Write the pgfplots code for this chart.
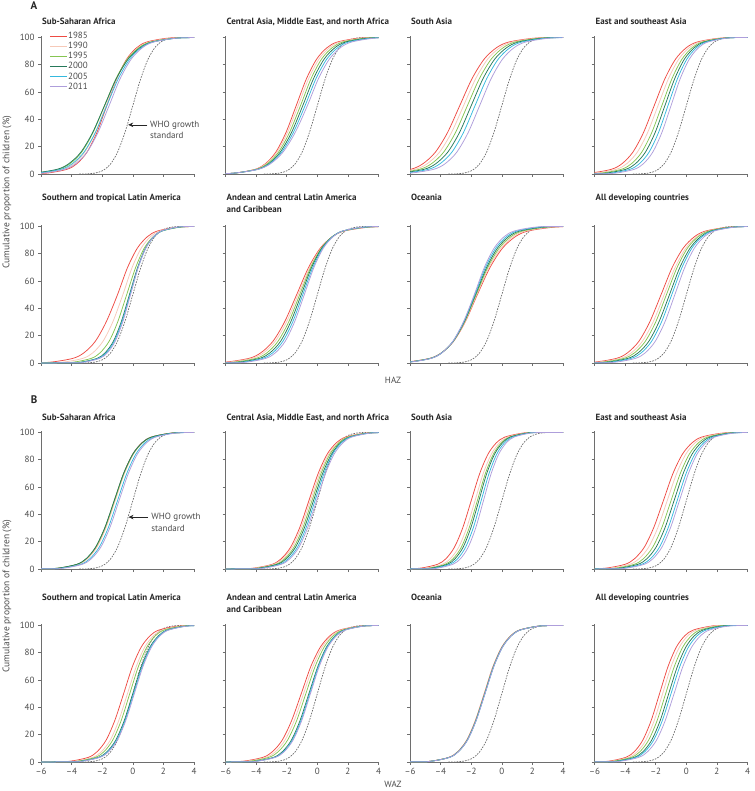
\documentclass[border=0pt]{standalone}
\usepackage{fontspec}
\setmainfont{PT Sans}
\usepackage{pgfplots}
\usepackage{pgfplotstable}
\pgfplotsset{compat=1.18}
\usetikzlibrary{arrows.meta}

\definecolor{c85}{HTML}{EE4B43}
\definecolor{c90}{HTML}{F6C9B8}
\definecolor{c95}{HTML}{86C552}
\definecolor{c00}{HTML}{26795A}
\definecolor{c05}{HTML}{35B9DE}
\definecolor{c11}{HTML}{AE9EDB}
\definecolor{axgray}{HTML}{6E6E6E}
\definecolor{whogray}{HTML}{6A6A6A}
\definecolor{txtgray}{HTML}{4A4A4A}

\tikzset{
 s85/.style={c85, line width=0.75pt, smooth},
 s90/.style={c90, line width=0.75pt, smooth},
 s95/.style={c95, line width=0.75pt, smooth},
 s00/.style={c00, line width=0.75pt, smooth},
 s05/.style={c05, line width=0.75pt, smooth},
 s11/.style={c11, line width=0.75pt, smooth},
 who/.style={whogray, line width=0.7pt, dash pattern=on 1.6pt off 1.2pt, smooth},
 ttl/.style={anchor=base west, font=\bfseries\fontsize{9}{10.8}\selectfont, text=black!85, inner sep=0pt},
 ann/.style={anchor=west, font=\fontsize{9}{10.8}\selectfont, text=txtgray, inner sep=0pt},
}

\pgfplotsset{
 panel/.style={
   scale only axis, width=153pt, height=138pt,
   xmin=-6, xmax=4, ymin=0, ymax=101,
   clip mode=individual,
   axis lines=left, axis line style={-, draw=axgray, line width=0.7pt},
   xtick={-6,-4,-2,0,2,4}, ytick={0,20,40,60,80,100},
   xticklabels={}, yticklabels={},
   tick align=outside, major tick length=3pt,
   tick style={draw=axgray, line width=0.6pt},
   ticklabel style={font=\fontsize{9}{10.8}\selectfont, text=txtgray},
   anchor=north west,
 },
 ylab/.style={yticklabels={0,20,40,60,80,100}},
 xlab/.style={xticklabels={--6,--4,--2,0,2,4}},
}

% WHO growth standard
\pgfplotstableread{
x y
-3.5 0.02
-3 0.13
-2.5 0.62
-2 2.28
-1.5 6.68
-1 15.87
-0.5 30.85
0 50
0.5 69.15
1 84.13
1.5 93.32
2 97.72
2.5 99.38
3 99.87
4 100
}\whotab

% columns a..f = 1985, 1990, 1995, 2000, 2005, 2011 ; y = cumulative %
\pgfplotstableread{
y a b c d e f
0 -12 -12 -12 -12 -12 -12
0.13 -6.9 -7.35 -7.85 -8.05 -7.7 -7.35
0.67 -5.6 -5.95 -6.35 -6.5 -6.2 -5.9
3.44 -4.3 -4.55 -4.85 -4.95 -4.7 -4.45
7.57 -3.65 -3.85 -4.1 -4.18 -3.95 -3.73
15.87 -3.0 -3.15 -3.35 -3.4 -3.2 -3.0
30.28 -2.35 -2.45 -2.6 -2.63 -2.45 -2.28
50 -1.7 -1.75 -1.85 -1.85 -1.7 -1.55
69.72 -1.05 -1.05 -1.1 -1.08 -0.95 -0.83
84.13 -0.4 -0.35 -0.35 -0.3 -0.2 -0.1
92.43 0.25 0.35 0.4 0.48 0.55 0.63
96.56 0.9 1.05 1.15 1.25 1.3 1.35
99.33 2.2 2.45 2.65 2.8 2.8 2.8
99.87 3.5 3.85 4.15 4.35 4.3 4.25
100 10 10 10 10 10 10
}\tAone

\pgfplotstableread{
y a b c d e f
0 -12 -12 -12 -12 -12 -12
0.13 -6.74 -6.81 -6.86 -6.87 -6.96 -7.05
0.67 -5.4 -5.42 -5.42 -5.39 -5.42 -5.45
3.44 -4.06 -4.03 -3.98 -3.91 -3.88 -3.85
7.57 -3.39 -3.34 -3.26 -3.17 -3.11 -3.05
15.87 -2.72 -2.64 -2.54 -2.43 -2.34 -2.25
30.28 -2.05 -1.95 -1.82 -1.69 -1.57 -1.45
50 -1.38 -1.25 -1.1 -0.95 -0.8 -0.65
69.72 -0.71 -0.57 -0.41 -0.25 -0.09 0.07
84.13 -0.04 0.11 0.28 0.45 0.62 0.79
92.43 0.63 0.79 0.97 1.15 1.33 1.51
96.56 1.3 1.47 1.66 1.85 2.04 2.23
99.33 2.64 2.83 3.04 3.25 3.46 3.67
99.87 3.98 4.19 4.42 4.65 4.88 5.11
100 10 10 10 10 10 10
}\tAtwo

\pgfplotstableread{
y a b c d e f
0 -12 -12 -12 -12 -12 -12
0.13 -9.15 -8.82 -8.49 -8.16 -7.83 -7.45
0.67 -7.55 -7.24 -6.93 -6.62 -6.31 -5.95
3.44 -5.95 -5.66 -5.37 -5.08 -4.79 -4.45
7.57 -5.15 -4.87 -4.59 -4.31 -4.03 -3.7
15.87 -4.35 -4.08 -3.81 -3.54 -3.27 -2.95
30.28 -3.55 -3.29 -3.03 -2.77 -2.51 -2.2
50 -2.75 -2.5 -2.25 -2.0 -1.75 -1.45
69.72 -1.95 -1.71 -1.47 -1.23 -0.99 -0.7
84.13 -1.15 -0.92 -0.69 -0.46 -0.23 0.05
92.43 -0.35 -0.13 0.09 0.31 0.53 0.8
96.56 0.45 0.66 0.87 1.08 1.29 1.55
99.33 2.05 2.24 2.43 2.62 2.81 3.05
99.87 3.65 3.82 3.99 4.16 4.33 4.55
100 10 10 10 10 10 10
}\tAthree

\pgfplotstableread{
y a b c d e f
0 -12 -12 -12 -12 -12 -12
0.13 -7.7 -7.29 -6.88 -6.52 -6.16 -5.8
0.67 -6.3 -5.93 -5.56 -5.24 -4.92 -4.6
3.44 -4.9 -4.57 -4.24 -3.96 -3.68 -3.4
7.57 -4.2 -3.89 -3.58 -3.32 -3.06 -2.8
15.87 -3.5 -3.21 -2.92 -2.68 -2.44 -2.2
30.28 -2.8 -2.53 -2.26 -2.04 -1.82 -1.6
50 -2.1 -1.85 -1.6 -1.4 -1.2 -1.0
69.72 -1.4 -1.17 -0.94 -0.76 -0.58 -0.4
84.13 -0.7 -0.49 -0.28 -0.12 0.04 0.2
92.43 0.0 0.19 0.38 0.52 0.66 0.8
96.56 0.7 0.87 1.04 1.16 1.28 1.4
99.33 2.1 2.23 2.36 2.44 2.52 2.6
99.87 3.5 3.59 3.68 3.72 3.76 3.8
100 10 10 10 10 10 10
}\tAfour

\pgfplotstableread{
y a b c d e f
0 -12 -12 -12 -12 -12 -12
0.13 -6.8 -5.85 -5.0 -4.42 -4.3 -4.15
0.67 -5.35 -4.55 -3.85 -3.37 -3.27 -3.15
3.44 -3.9 -3.25 -2.7 -2.32 -2.24 -2.15
7.57 -3.18 -2.6 -2.13 -1.8 -1.73 -1.65
15.87 -2.45 -1.95 -1.55 -1.27 -1.21 -1.15
30.28 -1.73 -1.3 -0.98 -0.75 -0.7 -0.65
50 -1.0 -0.65 -0.4 -0.22 -0.18 -0.15
69.72 -0.35 -0.05 0.18 0.31 0.34 0.35
84.13 0.3 0.55 0.75 0.83 0.85 0.85
92.43 0.95 1.15 1.33 1.36 1.37 1.35
96.56 1.6 1.75 1.9 1.88 1.88 1.85
99.33 2.9 2.95 3.05 2.93 2.91 2.85
99.87 4.2 4.15 4.2 3.98 3.94 3.85
100 10 10 10 10 10 10
}\tAfive

\pgfplotstableread{
y a b c d e f
0 -12 -12 -12 -12 -12 -12
0.13 -7.55 -7.25 -6.83 -6.45 -6.15 -5.85
0.67 -6.0 -5.75 -5.41 -5.1 -4.85 -4.6
3.44 -4.45 -4.25 -3.99 -3.75 -3.55 -3.35
7.57 -3.68 -3.5 -3.28 -3.08 -2.9 -2.73
15.87 -2.9 -2.75 -2.57 -2.4 -2.25 -2.1
30.28 -2.13 -2.0 -1.86 -1.73 -1.6 -1.48
50 -1.35 -1.25 -1.15 -1.05 -0.95 -0.85
69.72 -0.58 -0.5 -0.44 -0.38 -0.3 -0.23
84.13 0.2 0.25 0.27 0.3 0.35 0.4
92.43 0.98 1.0 0.98 0.98 1.0 1.03
96.56 1.75 1.75 1.69 1.65 1.65 1.65
99.33 3.3 3.25 3.11 3.0 2.95 2.9
99.87 4.85 4.75 4.53 4.35 4.25 4.15
100 10 10 10 10 10 10
}\tAsix

\pgfplotstableread{
y a b c d e f
0 -12 -12 -12 -12 -12 -12
0.13 -7.8 -7.72 -7.64 -7.56 -7.48 -7.4
0.67 -6.25 -6.2 -6.15 -6.1 -6.05 -6.0
3.44 -4.7 -4.68 -4.66 -4.64 -4.62 -4.6
7.57 -3.93 -3.92 -3.92 -3.91 -3.91 -3.9
15.87 -3.15 -3.16 -3.17 -3.18 -3.19 -3.2
30.28 -2.38 -2.4 -2.43 -2.45 -2.48 -2.5
50 -1.6 -1.64 -1.68 -1.72 -1.76 -1.8
69.72 -0.78 -0.85 -0.93 -1.0 -1.08 -1.15
84.13 0.05 -0.06 -0.17 -0.28 -0.39 -0.5
92.43 0.88 0.73 0.59 0.44 0.3 0.15
96.56 1.7 1.52 1.34 1.16 0.98 0.8
99.33 3.35 3.1 2.85 2.6 2.35 2.1
99.87 5.0 4.68 4.36 4.04 3.72 3.4
100 10 10 10 10 10 10
}\tAseven

\pgfplotstableread{
y a b c d e f
0 -12 -12 -12 -12 -12 -12
0.13 -7.45 -7.13 -6.82 -6.5 -6.23 -5.87
0.67 -6.0 -5.71 -5.44 -5.15 -4.91 -4.59
3.44 -4.55 -4.29 -4.06 -3.8 -3.59 -3.31
7.57 -3.83 -3.58 -3.37 -3.13 -2.93 -2.67
15.87 -3.1 -2.87 -2.68 -2.45 -2.27 -2.03
30.28 -2.38 -2.16 -1.99 -1.78 -1.61 -1.39
50 -1.65 -1.45 -1.3 -1.1 -0.95 -0.75
69.72 -0.93 -0.74 -0.61 -0.43 -0.29 -0.11
84.13 -0.2 -0.03 0.08 0.25 0.37 0.53
92.43 0.53 0.68 0.77 0.93 1.03 1.17
96.56 1.25 1.39 1.46 1.6 1.69 1.81
99.33 2.7 2.81 2.84 2.95 3.01 3.09
99.87 4.15 4.23 4.22 4.3 4.33 4.37
100 10 10 10 10 10 10
}\tAeight

\pgfplotstableread{
y a b c d e f
0 -12 -12 -12 -12 -12 -12
0.13 -6.0 -5.95 -6.08 -6.1 -5.8 -5.7
0.67 -4.8 -4.75 -4.86 -4.88 -4.6 -4.5
3.44 -3.6 -3.55 -3.64 -3.66 -3.4 -3.3
7.57 -3.0 -2.95 -3.03 -3.05 -2.8 -2.7
15.87 -2.4 -2.35 -2.42 -2.44 -2.2 -2.1
30.28 -1.8 -1.75 -1.81 -1.83 -1.6 -1.5
50 -1.2 -1.15 -1.2 -1.22 -1.0 -0.9
69.72 -0.6 -0.55 -0.59 -0.61 -0.4 -0.3
84.13 0.0 0.05 0.02 0.0 0.2 0.3
92.43 0.6 0.65 0.63 0.61 0.8 0.9
96.56 1.2 1.25 1.24 1.22 1.4 1.5
99.33 2.4 2.45 2.46 2.44 2.6 2.7
99.87 3.6 3.65 3.68 3.66 3.8 3.9
100 10 10 10 10 10 10
}\tBone

\pgfplotstableread{
y a b c d e f
0 -12 -12 -12 -12 -12 -12
0.13 -5.35 -5.25 -5.07 -4.97 -4.75 -4.65
0.67 -4.15 -4.05 -3.89 -3.79 -3.6 -3.5
3.44 -2.95 -2.85 -2.71 -2.61 -2.45 -2.35
7.57 -2.35 -2.25 -2.12 -2.02 -1.88 -1.78
15.87 -1.75 -1.65 -1.53 -1.43 -1.3 -1.2
30.28 -1.15 -1.05 -0.94 -0.84 -0.73 -0.63
50 -0.55 -0.45 -0.35 -0.25 -0.15 -0.05
69.72 0.05 0.15 0.24 0.34 0.43 0.53
84.13 0.65 0.75 0.83 0.93 1.0 1.1
92.43 1.25 1.35 1.42 1.52 1.58 1.68
96.56 1.85 1.95 2.01 2.11 2.15 2.25
99.33 3.05 3.15 3.19 3.29 3.3 3.4
99.87 4.25 4.35 4.37 4.47 4.45 4.55
100 10 10 10 10 10 10
}\tBtwo

\pgfplotstableread{
y a b c d e f
0 -12 -12 -12 -12 -12 -12
0.13 -6.4 -6.03 -5.8 -5.62 -5.43 -5.2
0.67 -5.3 -4.96 -4.75 -4.59 -4.41 -4.2
3.44 -4.2 -3.89 -3.7 -3.56 -3.39 -3.2
7.57 -3.65 -3.36 -3.18 -3.05 -2.88 -2.7
15.87 -3.1 -2.82 -2.65 -2.53 -2.37 -2.2
30.28 -2.55 -2.29 -2.13 -2.02 -1.86 -1.7
50 -2.0 -1.75 -1.6 -1.5 -1.35 -1.2
69.72 -1.45 -1.22 -1.08 -0.99 -0.84 -0.7
84.13 -0.9 -0.68 -0.55 -0.47 -0.33 -0.2
92.43 -0.35 -0.15 -0.03 0.05 0.18 0.3
96.56 0.2 0.39 0.5 0.56 0.69 0.8
99.33 1.3 1.46 1.55 1.59 1.71 1.8
99.87 2.4 2.53 2.6 2.62 2.73 2.8
100 10 10 10 10 10 10
}\tBthree

\pgfplotstableread{
y a b c d e f
0 -12 -12 -12 -12 -12 -12
0.13 -6.5 -6.13 -5.8 -5.52 -5.24 -5.05
0.67 -5.25 -4.91 -4.6 -4.34 -4.08 -3.9
3.44 -4.0 -3.69 -3.4 -3.16 -2.92 -2.75
7.57 -3.38 -3.08 -2.8 -2.57 -2.34 -2.18
15.87 -2.75 -2.47 -2.2 -1.98 -1.76 -1.6
30.28 -2.13 -1.86 -1.6 -1.39 -1.18 -1.03
50 -1.5 -1.25 -1.0 -0.8 -0.6 -0.45
69.72 -0.88 -0.64 -0.4 -0.21 -0.02 0.13
84.13 -0.25 -0.03 0.2 0.38 0.56 0.7
92.43 0.38 0.58 0.8 0.97 1.14 1.28
96.56 1.0 1.19 1.4 1.56 1.72 1.85
99.33 2.25 2.41 2.6 2.74 2.88 3.0
99.87 3.5 3.63 3.8 3.92 4.04 4.15
100 10 10 10 10 10 10
}\tBfour

\pgfplotstableread{
y a b c d e f
0 -12 -12 -12 -12 -12 -12
0.13 -5.2 -4.87 -4.68 -4.48 -4.43 -4.38
0.67 -4.05 -3.74 -3.56 -3.36 -3.31 -3.26
3.44 -2.9 -2.61 -2.44 -2.24 -2.19 -2.14
7.57 -2.33 -2.05 -1.88 -1.68 -1.63 -1.58
15.87 -1.75 -1.48 -1.32 -1.12 -1.07 -1.02
30.28 -1.18 -0.92 -0.76 -0.56 -0.51 -0.46
50 -0.6 -0.35 -0.2 0.0 0.05 0.1
69.72 -0.03 0.22 0.36 0.56 0.61 0.66
84.13 0.55 0.78 0.92 1.12 1.17 1.22
92.43 1.13 1.35 1.48 1.68 1.73 1.78
96.56 1.7 1.91 2.04 2.24 2.29 2.34
99.33 2.85 3.04 3.16 3.36 3.41 3.46
99.87 4.0 4.17 4.28 4.48 4.53 4.58
100 10 10 10 10 10 10
}\tBfive

\pgfplotstableread{
y a b c d e f
0 -12 -12 -12 -12 -12 -12
0.13 -6.05 -5.78 -5.55 -5.15 -5.06 -5.01
0.67 -4.8 -4.56 -4.35 -4.0 -3.92 -3.87
3.44 -3.55 -3.34 -3.15 -2.85 -2.78 -2.73
7.57 -2.93 -2.73 -2.55 -2.28 -2.21 -2.16
15.87 -2.3 -2.12 -1.95 -1.7 -1.64 -1.59
30.28 -1.68 -1.51 -1.35 -1.13 -1.07 -1.02
50 -1.05 -0.9 -0.75 -0.55 -0.5 -0.45
69.72 -0.43 -0.29 -0.15 0.03 0.07 0.12
84.13 0.2 0.32 0.45 0.6 0.64 0.69
92.43 0.83 0.93 1.05 1.18 1.21 1.26
96.56 1.45 1.54 1.65 1.75 1.78 1.83
99.33 2.7 2.76 2.85 2.9 2.92 2.97
99.87 3.95 3.98 4.05 4.05 4.06 4.11
100 10 10 10 10 10 10
}\tBsix

\pgfplotstableread{
y a b c d e f
0 -12 -12 -12 -12 -12 -12
0.13 -5.75 -5.75 -5.72 -5.72 -5.7 -5.7
0.67 -4.6 -4.6 -4.57 -4.57 -4.55 -4.55
3.44 -3.45 -3.45 -3.42 -3.42 -3.4 -3.4
7.57 -2.88 -2.88 -2.85 -2.85 -2.83 -2.83
15.87 -2.3 -2.3 -2.27 -2.27 -2.25 -2.25
30.28 -1.73 -1.73 -1.7 -1.7 -1.68 -1.68
50 -1.15 -1.15 -1.12 -1.12 -1.1 -1.1
69.72 -0.58 -0.58 -0.55 -0.55 -0.53 -0.53
84.13 0.0 0.0 0.03 0.03 0.05 0.05
92.43 0.58 0.58 0.61 0.61 0.63 0.63
96.56 1.15 1.15 1.18 1.18 1.2 1.2
99.33 2.3 2.3 2.33 2.33 2.35 2.35
99.87 3.45 3.45 3.48 3.48 3.5 3.5
100 10 10 10 10 10 10
}\tBseven

\pgfplotstableread{
y a b c d e f
0 -12 -12 -12 -12 -12 -12
0.13 -6.15 -5.95 -5.83 -5.63 -5.56 -5.4
0.67 -5.05 -4.85 -4.71 -4.51 -4.42 -4.25
3.44 -3.95 -3.75 -3.59 -3.39 -3.28 -3.1
7.57 -3.4 -3.2 -3.03 -2.83 -2.71 -2.53
15.87 -2.85 -2.65 -2.47 -2.27 -2.14 -1.95
30.28 -2.3 -2.1 -1.91 -1.71 -1.57 -1.38
50 -1.75 -1.55 -1.35 -1.15 -1.0 -0.8
69.72 -1.2 -1.0 -0.79 -0.59 -0.43 -0.23
84.13 -0.65 -0.45 -0.23 -0.03 0.14 0.35
92.43 -0.1 0.1 0.33 0.53 0.71 0.93
96.56 0.45 0.65 0.89 1.09 1.28 1.5
99.33 1.55 1.75 2.01 2.21 2.42 2.65
99.87 2.65 2.85 3.13 3.33 3.56 3.8
100 10 10 10 10 10 10
}\tBeight

\newcommand\curves[1]{%
 \addplot[who, forget plot] table[x=x,y=y]{\whotab};
 \addplot[s85] table[x=a,y=y]{#1};
 \addplot[s90] table[x=b,y=y]{#1};
 \addplot[s95] table[x=c,y=y]{#1};
 \addplot[s00] table[x=d,y=y]{#1};
 \addplot[s05] table[x=e,y=y]{#1};
 \addplot[s11] table[x=f,y=y]{#1};
}

\begin{document}
\begin{tikzpicture}
\path[use as bounding box] (0pt,0pt) rectangle (754pt,-791pt);

% section letters
\node[font=\bfseries\fontsize{11}{12}\selectfont, text=black!85] at (34pt,-6pt) {A};
\node[font=\bfseries\fontsize{11}{12}\selectfont, text=black!85] at (34pt,-400pt) {B};

% y labels
\node[rotate=90, font=\fontsize{9.5}{11}\selectfont, text=txtgray] at (7pt,-192pt) {Cumulative proportion of children (\%)};
\node[rotate=90, font=\fontsize{9.5}{11}\selectfont, text=txtgray] at (7pt,-596pt) {Cumulative proportion of children (\%)};

% x labels
\node[font=\fontsize{9}{10}\selectfont, text=txtgray] at (393pt,-380pt) {HAZ};
\node[font=\fontsize{9}{10}\selectfont, text=txtgray] at (393pt,-784pt) {WAZ};

% ===== Section A, row 1 =====
\begin{axis}[panel, ylab, at={(41pt,-36pt)},
  legend entries={1985,1990,1995,2000,2005,2011},
  legend cell align=left,
  legend style={at={(axis cs:-5.45,104.5)}, anchor=north west, draw=none, fill=none,
    font=\fontsize{9}{9.5}\selectfont, text=txtgray, row sep=0.6pt, inner sep=0pt,
    nodes={inner sep=0.8pt}},
  legend image code/.code={\draw[#1] (0pt,0pt) -- (17pt,0pt);}]
\curves{\tAone}
\draw[-{Stealth[length=5pt,width=4.5pt]}, line width=0.6pt, black!85] (axis cs:0.95,36) -- (axis cs:-0.3,36);
\node[ann] at (axis cs:1.12,36) {WHO growth};
\node[ann] at (axis cs:1.12,28) {standard};
\end{axis}
\begin{axis}[panel, at={(225.5pt,-36pt)}]
\curves{\tAtwo}
\end{axis}
\begin{axis}[panel, at={(410pt,-36pt)}]
\curves{\tAthree}
\end{axis}
\begin{axis}[panel, at={(594.5pt,-36pt)}]
\curves{\tAfour}
\end{axis}
\node[ttl] at (42pt,-25pt) {Sub-Saharan Africa};
\node[ttl] at (226.5pt,-25pt) {Central Asia, Middle East, and north Africa};
\node[ttl] at (411pt,-25pt) {South Asia};
\node[ttl] at (595.5pt,-25pt) {East and southeast Asia};

% ===== Section A, row 2 =====
\begin{axis}[panel, ylab, at={(41pt,-225pt)}]
\curves{\tAfive}
\end{axis}
\begin{axis}[panel, at={(225.5pt,-225pt)}]
\curves{\tAsix}
\end{axis}
\begin{axis}[panel, at={(410pt,-225pt)}]
\curves{\tAseven}
\end{axis}
\begin{axis}[panel, at={(594.5pt,-225pt)}]
\curves{\tAeight}
\end{axis}
\node[ttl] at (42pt,-201pt) {Southern and tropical Latin America};
\node[ttl] at (226.5pt,-201pt) {Andean and central Latin America};
\node[ttl] at (226.5pt,-213pt) {and Caribbean};
\node[ttl] at (411pt,-201pt) {Oceania};
\node[ttl] at (595.5pt,-201pt) {All developing countries};

% ===== Section B, row 1 =====
\begin{axis}[panel, ylab, at={(41pt,-431pt)}]
\curves{\tBone}
\draw[-{Stealth[length=5pt,width=4.5pt]}, line width=0.6pt, black!85] (axis cs:1.0,38) -- (axis cs:-0.28,38);
\node[ann] at (axis cs:1.2,38) {WHO growth};
\node[ann] at (axis cs:1.2,30) {standard};
\end{axis}
\begin{axis}[panel, at={(225.5pt,-431pt)}]
\curves{\tBtwo}
\end{axis}
\begin{axis}[panel, at={(410pt,-431pt)}]
\curves{\tBthree}
\end{axis}
\begin{axis}[panel, at={(594.5pt,-431pt)}]
\curves{\tBfour}
\end{axis}
\node[ttl] at (42pt,-420pt) {Sub-Saharan Africa};
\node[ttl] at (226.5pt,-420pt) {Central Asia, Middle East, and north Africa};
\node[ttl] at (411pt,-420pt) {South Asia};
\node[ttl] at (595.5pt,-420pt) {East and southeast Asia};

% ===== Section B, row 2 =====
\begin{axis}[panel, ylab, xlab, at={(41pt,-624pt)}]
\curves{\tBfive}
\end{axis}
\begin{axis}[panel, xlab, at={(225.5pt,-624pt)}]
\curves{\tBsix}
\end{axis}
\begin{axis}[panel, xlab, at={(410pt,-624pt)}]
\curves{\tBseven}
\end{axis}
\begin{axis}[panel, xlab, at={(594.5pt,-624pt)}]
\curves{\tBeight}
\end{axis}
\node[ttl] at (42pt,-600pt) {Southern and tropical Latin America};
\node[ttl] at (226.5pt,-600pt) {Andean and central Latin America};
\node[ttl] at (226.5pt,-612pt) {and Caribbean};
\node[ttl] at (411pt,-600pt) {Oceania};
\node[ttl] at (595.5pt,-600pt) {All developing countries};
\end{tikzpicture}
\end{document}
